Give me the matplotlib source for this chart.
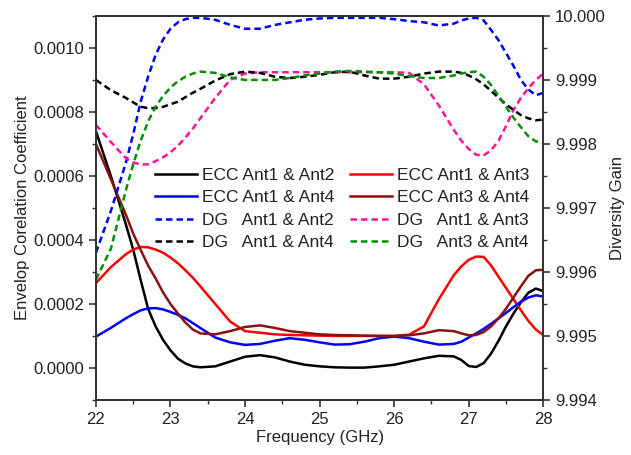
import matplotlib
matplotlib.use("Agg")
import matplotlib.pyplot as plt
from matplotlib.ticker import MultipleLocator, FormatStrFormatter

plt.rcParams['font.family'] = ['Liberation Sans', 'DejaVu Sans']
plt.rcParams['font.size'] = 12

# Frequency grid (GHz), finer where the curves bend sharply
freq = [22.0, 22.2, 22.4, 22.5, 22.6, 22.7, 22.8, 22.9, 23.0, 23.1,
        23.2, 23.3, 23.4, 23.6, 23.8, 24.0, 24.2, 24.4, 24.6, 24.8,
        25.0, 25.2, 25.4, 25.6, 25.8, 26.0, 26.2, 26.4, 26.6, 26.8,
        26.9, 27.0, 27.1, 27.2, 27.3, 27.4, 27.5, 27.6, 27.7, 27.8,
        27.9, 28.0]

# ECC values (x 1e-4)
ecc_12 = [7.4, 6.0, 4.5, 3.7, 2.75, 1.85, 1.3, 0.88, 0.55, 0.29,
          0.14, 0.05, 0.02, 0.05, 0.2, 0.35, 0.4, 0.33, 0.2, 0.1,
          0.05, 0.02, 0.01, 0.01, 0.05, 0.1, 0.2, 0.3, 0.38, 0.36,
          0.25, 0.06, 0.03, 0.15, 0.45, 0.85, 1.3, 1.7, 2.05, 2.35,
          2.48, 2.4]
ecc_13 = [2.65, 3.15, 3.55, 3.7, 3.78, 3.77, 3.7, 3.6, 3.45, 3.27,
          3.05, 2.82, 2.55, 2.0, 1.45, 1.15, 1.1, 1.05, 1.03, 1.02,
          1.01, 1.0, 1.0, 1.0, 1.0, 1.0, 1.04, 1.3, 2.15, 2.9,
          3.17, 3.38, 3.48, 3.47, 3.2, 2.85, 2.5, 2.15, 1.8, 1.47,
          1.2, 1.03]
ecc_14 = [0.98, 1.25, 1.55, 1.68, 1.8, 1.86, 1.87, 1.83, 1.75, 1.66,
          1.55, 1.4, 1.25, 0.95, 0.8, 0.72, 0.75, 0.85, 0.93, 0.88,
          0.8, 0.73, 0.74, 0.82, 0.93, 0.98, 0.93, 0.82, 0.73, 0.75,
          0.82, 0.95, 1.08, 1.22, 1.38, 1.55, 1.72, 1.9, 2.07, 2.2,
          2.27, 2.23]
ecc_34 = [7.0, 5.9, 4.8, 4.2, 3.69, 3.2, 2.8, 2.36, 2.0, 1.7,
          1.42, 1.2, 1.08, 1.05, 1.15, 1.28, 1.33, 1.25, 1.15, 1.1,
          1.05, 1.03, 1.02, 1.01, 1.0, 1.0, 1.02, 1.08, 1.18, 1.15,
          1.08, 1.02, 1.03, 1.12, 1.3, 1.55, 1.85, 2.2, 2.55, 2.88,
          3.05, 3.07]

# Diversity gain values
dg_12 = [9.9963, 9.99695, 9.9977, 9.99815, 9.99866, 9.99905, 9.99939, 9.99963, 9.9998, 9.9999,
         9.99995, 9.99997, 9.99997, 9.99994, 9.99986, 9.9998, 9.9998, 9.99986, 9.9999, 9.99994,
         9.99996, 9.99997, 9.99997, 9.99997, 9.99997, 9.99995, 9.99992, 9.9999, 9.99985, 9.99988,
         9.99993, 9.99996, 9.99997, 9.99993, 9.99978, 9.99962, 9.99942, 9.99922, 9.999, 9.99885,
         9.99876, 9.9988]
dg_13 = [9.9983, 9.99803, 9.99778, 9.99771, 9.99768, 9.99768, 9.99773, 9.99779, 9.99787, 9.99797,
         9.9981, 9.99824, 9.9984, 9.99872, 9.999, 9.9991, 9.99912, 9.99912, 9.99912, 9.99912,
         9.99912, 9.99912, 9.99912, 9.99912, 9.99912, 9.99912, 9.99911, 9.99893, 9.9986, 9.99822,
         9.99805, 9.99792, 9.99783, 9.99782, 9.9979, 9.99805, 9.99828, 9.99853, 9.99872, 9.99887,
         9.999, 9.9991]
dg_14 = [9.999, 9.99884, 9.99872, 9.99865, 9.99858, 9.99856, 9.99856, 9.99858, 9.99862, 9.99866,
         9.99873, 9.9988, 9.99886, 9.99899, 9.99909, 9.99913, 9.99911, 9.99905, 9.99903, 9.99905,
         9.99908, 9.99912, 9.99913, 9.99907, 9.99902, 9.99902, 9.99905, 9.9991, 9.99913, 9.99913,
         9.99911, 9.99907, 9.99901, 9.99893, 9.99883, 9.99872, 9.99862, 9.99853, 9.99845, 9.9984,
         9.99837, 9.99838]
dg_34 = [9.99588, 9.99636, 9.99727, 9.99768, 9.99805, 9.99835, 9.99858, 9.99875, 9.99888, 9.99898,
         9.99905, 9.9991, 9.99913, 9.99911, 9.99904, 9.999, 9.999, 9.999, 9.99903, 9.99907,
         9.9991, 9.99913, 9.99914, 9.99913, 9.99912, 9.9991, 9.99906, 9.99903, 9.99903, 9.99907,
         9.9991, 9.99912, 9.99913, 9.99905, 9.99892, 9.99875, 9.99858, 9.99841, 9.99826, 9.99812,
         9.99804, 9.99801]

labels_ecc = ["ECC Ant1 & Ant2", "ECC Ant1 & Ant3", "ECC Ant1 & Ant4", "ECC Ant3 & Ant4"]
labels_dg = ["DG   Ant1 & Ant2", "DG   Ant1 & Ant3", "DG   Ant1 & Ant4", "DG   Ant3 & Ant4"]

c_black = '#000000'
c_red = '#ff0000'
c_blue = '#0000ff'
c_dred = '#8b1010'
c_pink = '#ff1493'
c_green = '#009000'
dash = (0, (2.6, 1.6))

fig = plt.figure(figsize=(6.31, 4.55), dpi=100)
ax = fig.add_axes([0.152, 0.121, 0.709, 0.844])
ax2 = ax.twinx()

scale = 1e-4
h1, = ax.plot(freq, [v * scale for v in ecc_12], color=c_black, lw=1.8, label=labels_ecc[0])
h2, = ax.plot(freq, [v * scale for v in ecc_13], color=c_red, lw=1.8, label=labels_ecc[1])
h3, = ax.plot(freq, [v * scale for v in ecc_14], color=c_blue, lw=1.8, label=labels_ecc[2])
h4, = ax.plot(freq, [v * scale for v in ecc_34], color=c_dred, lw=1.8, label=labels_ecc[3])

d1, = ax2.plot(freq, dg_12, color=c_blue, lw=1.8, ls=dash, label=labels_dg[0])
d2, = ax2.plot(freq, dg_13, color=c_pink, lw=1.8, ls=dash, label=labels_dg[1])
d3, = ax2.plot(freq, dg_14, color=c_black, lw=1.8, ls=dash, label=labels_dg[2])
d4, = ax2.plot(freq, dg_34, color=c_green, lw=1.8, ls=dash, label=labels_dg[3])

ax.set_xlim(22, 28)
ax.set_ylim(-0.0001, 0.0011)
ax2.set_ylim(9.994, 10.000)

ax.xaxis.set_major_locator(MultipleLocator(1))
ax.xaxis.set_minor_locator(MultipleLocator(0.5))
ax.yaxis.set_major_locator(MultipleLocator(0.0002))
ax.yaxis.set_minor_locator(MultipleLocator(0.0001))
ax.yaxis.set_major_formatter(FormatStrFormatter('%.4f'))
ax2.yaxis.set_major_locator(MultipleLocator(0.001))
ax2.yaxis.set_minor_locator(MultipleLocator(0.0005))
ax2.yaxis.set_major_formatter(FormatStrFormatter('%.3f'))

txt = '#222222'
for a in (ax, ax2):
    for s in a.spines.values():
        s.set_linewidth(1.3)
        s.set_color('#333333')
    a.tick_params(which='major', direction='out', length=5, width=1.2, colors='#333333', labelcolor=txt, labelsize=12)
    a.tick_params(which='minor', direction='out', length=3, width=1.0, colors='#333333')
ax.tick_params(top=False, right=False, which='both')

ax.set_xlabel("Frequency (GHz)", color=txt, fontsize=12, labelpad=2)
ax.set_ylabel("Envelop Corelation Coefficient", color=txt, fontsize=12, labelpad=2)
ax2.set_ylabel("Diversity Gain", color=txt, fontsize=12, labelpad=3)

handles = [h1, h3, d1, d3, h2, h4, d2, d4]
leg = ax.legend(handles, [h.get_label() for h in handles], ncol=2, frameon=False,
                loc='upper left', bbox_to_anchor=(0.098, 0.645),
                handlelength=2.4, handletextpad=0.3, columnspacing=0.9,
                labelspacing=0.42, fontsize=12.5)
for t in leg.get_texts():
    t.set_color(txt)

fig.savefig("out.png", dpi=100)
